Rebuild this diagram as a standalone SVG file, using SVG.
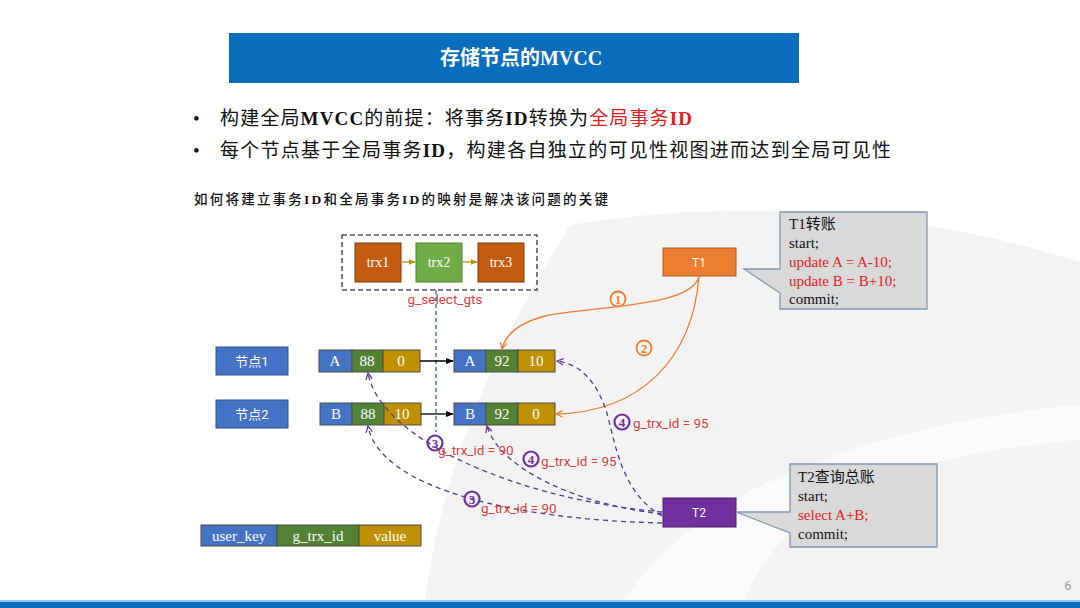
<svg xmlns="http://www.w3.org/2000/svg" width="1080" height="608" viewBox="0 0 1080 608">
<defs>
<style>
.serif{font-family:"Liberation Serif","Noto Sans CJK SC",serif}
.sans{font-family:"Roboto","Noto Sans CJK SC",sans-serif}
.cjk{font-family:"Liberation Serif","Noto Sans CJK SC",serif}
.cell{stroke:#4d4d4d;stroke-width:1}
.ct{font-family:"Liberation Serif",serif;font-size:15px;fill:#fff;text-anchor:middle}
.lbl{font-family:"Roboto",sans-serif;font-size:13.5px;fill:#D9413F}
.pc{fill:none;stroke:#7030A0;stroke-width:2.2}
.pn{font-family:"Liberation Serif",serif;font-weight:bold;font-size:13px;fill:#7030A0;text-anchor:middle}
.oc{fill:none;stroke:#ED7D31;stroke-width:1.8}
.on{font-family:"Liberation Serif",serif;font-weight:bold;font-size:12.5px;fill:#ED7D31;text-anchor:middle}
.pd{fill:none;stroke:#4E3E96;stroke-width:1.3;stroke-dasharray:5 4}
.oa{fill:none;stroke:#ED7D31;stroke-width:1.3}
.call{fill:#D9D9D9;stroke:#8497B0;stroke-width:1.3}
.ctxt{font-family:"Liberation Serif","Noto Sans CJK SC",serif;font-size:15px;fill:#111}
.red{fill:#E02020}
</style>
<marker id="ao" viewBox="0 0 10 10" refX="9" refY="5" markerWidth="8" markerHeight="8" orient="auto" markerUnits="userSpaceOnUse">
<path d="M1,1 L9,5 L1,9" fill="none" stroke="#ED7D31" stroke-width="1.5"/>
</marker>
<marker id="ap" viewBox="0 0 10 10" refX="9" refY="5" markerWidth="8" markerHeight="8" orient="auto" markerUnits="userSpaceOnUse">
<path d="M1,1 L9,5 L1,9" fill="none" stroke="#7030A0" stroke-width="1.6"/>
</marker>
<marker id="ab" viewBox="0 0 10 10" refX="9" refY="5" markerWidth="8" markerHeight="8" orient="auto" markerUnits="userSpaceOnUse">
<path d="M0,1 L10,5 L0,9 Z" fill="#000"/>
</marker>
<marker id="ag" viewBox="0 0 10 10" refX="9" refY="5" markerWidth="7" markerHeight="7" orient="auto" markerUnits="userSpaceOnUse">
<path d="M0,1 L10,5 L0,9 Z" fill="#BF9000"/>
</marker>
</defs>

<rect width="1080" height="608" fill="#fff"/>
<!-- faint background watermark -->
<g id="watermark">
<path d="M570,225 C505,330 445,450 425,600 L1080,600 L1080,262 C900,205 720,200 570,225 Z" fill="#F3F3F3"/>
<path d="M625,600 C690,495 860,425 1080,405 L1080,440 C880,455 775,515 745,600 Z" fill="#FAFAFA"/>
</g>

<!-- title -->
<g id="title">
<rect x="229" y="33" width="570" height="50" fill="#0A6EBD"/>
<text x="521" y="65" class="serif" font-size="20" font-weight="bold" fill="#fff" text-anchor="middle">存储节点的MVCC</text>
</g>

<g id="bullets">
<text x="193" y="125" class="serif" font-size="19" fill="#111">•</text>
<text x="220" y="125" class="cjk" font-size="19" fill="#111" textLength="472" lengthAdjust="spacing">构建全局<tspan font-weight="bold">MVCC</tspan>的前提：将事务<tspan font-weight="bold">ID</tspan>转换为<tspan class="red">全局事务</tspan><tspan class="red" font-weight="bold">ID</tspan></text>
<text x="193" y="157" class="serif" font-size="19" fill="#111">•</text>
<text x="220" y="157" class="cjk" font-size="19" fill="#111" textLength="671" lengthAdjust="spacing">每个节点基于全局事务<tspan font-weight="bold">ID</tspan>，构建各自独立的可见性视图进而达到全局可见性</text>
<text x="194" y="204" class="cjk" font-size="13.5" font-weight="500" fill="#111" textLength="414" lengthAdjust="spacing">如何将建立事务<tspan font-weight="bold">ID</tspan>和全局事务<tspan font-weight="bold">ID</tspan>的映射是解决该问题的关键</text>
</g>

<!-- g_select_gts -->
<g id="gts">
<rect x="342" y="235" width="195" height="55" fill="none" stroke="#44546A" stroke-width="1.5" stroke-dasharray="5 3"/>
<rect x="355" y="243" width="46" height="39" fill="#C55A11" stroke="#7F3A0B" stroke-width="1"/>
<text x="378" y="267" class="serif" font-size="14" fill="#fff" text-anchor="middle">trx1</text>
<rect x="416" y="243" width="46" height="39" fill="#70AD47" stroke="#507E32" stroke-width="1"/>
<text x="439" y="267" class="serif" font-size="14" fill="#fff" text-anchor="middle">trx2</text>
<rect x="478" y="243" width="46" height="39" fill="#C55A11" stroke="#7F3A0B" stroke-width="1"/>
<text x="501" y="267" class="serif" font-size="14" fill="#fff" text-anchor="middle">trx3</text>
<text x="445" y="304" class="sans" font-size="13.5" fill="#D9413F" text-anchor="middle">g_select_gts</text>
</g>

<g id="T1">
<rect x="663" y="248" width="73" height="28" fill="#ED7D31" stroke="#AE5A21" stroke-width="1"/>
<text x="699" y="267" class="sans" font-size="12" fill="#fff" text-anchor="middle">T1</text>
</g>
<g id="T1-note">
<path d="M780,212 H927 V309 H780 V293 L744,269 H780 Z" class="call"/>
<text x="789" y="229" class="ctxt">T1转账</text>
<text x="789" y="248" class="ctxt">start;</text>
<text x="789" y="267" class="ctxt red">update A = A-10;</text>
<text x="789" y="286" class="ctxt red">update B = B+10;</text>
<text x="789" y="304" class="ctxt">commit;</text>
</g>

<g id="T2">
<rect x="663" y="498" width="73" height="29" fill="#7030A0" stroke="#4B1F6E" stroke-width="1"/>
<text x="699" y="517" class="sans" font-size="12" fill="#fff" text-anchor="middle">T2</text>
</g>
<g id="T2-note">
<path d="M790,464 H937 V547 H790 V533 L736,512 H790 Z" class="call"/>
<text x="798" y="482" class="ctxt">T2查询总账</text>
<text x="798" y="501" class="ctxt">start;</text>
<text x="798" y="520" class="ctxt red">select A+B;</text>
<text x="798" y="539" class="ctxt">commit;</text>
</g>

<g id="node1">
<rect x="216" y="347" width="72" height="28" fill="#4472C4" stroke="#2F528F" stroke-width="1"/>
<text x="252" y="366" class="sans" font-size="13" fill="#fff" text-anchor="middle">节点1</text>
</g>
<g id="node2">
<rect x="216" y="400" width="72" height="28" fill="#4472C4" stroke="#2F528F" stroke-width="1"/>
<text x="252" y="419" class="sans" font-size="13" fill="#fff" text-anchor="middle">节点2</text>
</g>

<g id="A-old">
<rect x="319" y="350" width="33" height="22" fill="#4472C4" class="cell"/>
<rect x="352" y="350" width="31" height="22" fill="#548235" class="cell"/>
<rect x="383" y="350" width="37" height="22" fill="#BF9000" class="cell"/>
<text x="335" y="366" class="ct">A</text><text x="367" y="366" class="ct" font-size="14">88</text><text x="401" y="366" class="ct">0</text>
</g>
<g id="A-new">
<rect x="454" y="350" width="32" height="22" fill="#4472C4" class="cell"/>
<rect x="486" y="350" width="32" height="22" fill="#548235" class="cell"/>
<rect x="518" y="350" width="37" height="22" fill="#BF9000" class="cell"/>
<text x="470" y="366" class="ct">A</text><text x="502" y="366" class="ct" font-size="14">92</text><text x="536" y="366" class="ct">10</text>
</g>
<g id="B-old">
<rect x="320" y="403" width="32" height="22" fill="#4472C4" class="cell"/>
<rect x="352" y="403" width="32" height="22" fill="#548235" class="cell"/>
<rect x="384" y="403" width="37" height="22" fill="#BF9000" class="cell"/>
<text x="336" y="419" class="ct">B</text><text x="368" y="419" class="ct" font-size="14">88</text><text x="402" y="419" class="ct">10</text>
</g>
<g id="B-new">
<rect x="454" y="403" width="32" height="22" fill="#4472C4" class="cell"/>
<rect x="486" y="403" width="32" height="22" fill="#548235" class="cell"/>
<rect x="518" y="403" width="37" height="22" fill="#BF9000" class="cell"/>
<text x="470" y="419" class="ct">B</text><text x="502" y="419" class="ct" font-size="14">92</text><text x="536" y="419" class="ct">0</text>
</g>

<g id="legend">
<rect x="201" y="525" width="76" height="21" fill="#4472C4" class="cell"/>
<rect x="277" y="525" width="82" height="21" fill="#548235" class="cell"/>
<rect x="359" y="525" width="62" height="21" fill="#BF9000" class="cell"/>
<text x="239" y="541" class="ct" font-size="14.5">user_key</text>
<text x="318" y="541" class="ct" font-size="14.5">g_trx_id</text>
<text x="390" y="541" class="ct" font-size="14.5">value</text>
</g>

<g id="connectors">
<line x1="402" y1="262" x2="415" y2="262" stroke="#BF9000" stroke-width="1.3" marker-end="url(#ag)"/>
<line x1="463" y1="262" x2="477" y2="262" stroke="#BF9000" stroke-width="1.3" marker-end="url(#ag)"/>
<line x1="436" y1="290" x2="436" y2="432" stroke="#2F4F7F" stroke-width="1.2" stroke-dasharray="4 3"/>
<line x1="420" y1="361" x2="453" y2="361" stroke="#000" stroke-width="1.3" marker-end="url(#ab)"/>
<line x1="421" y1="414" x2="453" y2="414" stroke="#000" stroke-width="1.3" marker-end="url(#ab)"/>
<path d="M699,277 C690,308 590,306 545,316 C515,324 505,336 502,349" class="oa" marker-end="url(#ao)"/>
<path d="M699,277 C692,360 640,412 556,414" class="oa" marker-end="url(#ao)"/>
<path d="M662,512 C520,500 380,440 368,373" class="pd" marker-end="url(#ap)"/>
<path d="M662,523 C520,520 380,490 368,426" class="pd" marker-end="url(#ap)"/>
<path d="M662,514 C580,505 500,470 487,426" class="pd" marker-end="url(#ap)"/>
<path d="M662,516 C620,492 615,440 606,410 C597,384 582,364 557,361" class="pd" marker-end="url(#ap)"/>
</g>

<g id="labels">
<circle cx="618" cy="299" r="7.5" class="oc"/><text x="618" y="303.5" class="on">1</text>
<circle cx="644" cy="348" r="7.5" class="oc"/><text x="644" y="352.5" class="on">2</text>
<circle cx="435" cy="443" r="7.5" class="pc"/><text x="435" y="447.5" class="pn">3</text>
<text x="438" y="455" class="lbl">g_trx_id = 90</text>
<circle cx="531" cy="459" r="7.5" class="pc"/><text x="531" y="463.5" class="pn">4</text>
<text x="541" y="466" class="lbl">g_trx_id = 95</text>
<circle cx="622" cy="422" r="7.5" class="pc"/><text x="622" y="426.5" class="pn">4</text>
<text x="633" y="428" class="lbl">g_trx_id = 95</text>
<circle cx="472" cy="499" r="7.5" class="pc"/><text x="472" y="503.5" class="pn">3</text>
<text x="481" y="513" class="lbl">g_trx_id = 90</text>
</g>

<g id="footer">
<text x="1068" y="590" class="sans" font-size="13" fill="#9a9a9a" text-anchor="middle">6</text>
<rect x="0" y="600" width="1080" height="2" fill="#8CC8EE"/>
<rect x="0" y="602" width="1080" height="6" fill="#0A6EBD"/>
</g>
</svg>
